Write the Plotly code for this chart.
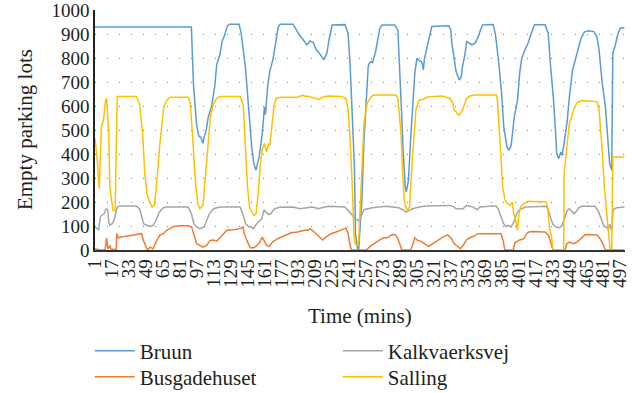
import plotly.graph_objects as go

# ---------------- data ----------------
bruun_t = [1, 92, 94, 97, 99, 101, 103, 104, 106, 108, 111, 114, 116, 119, 121, 123, 126, 128, 137, 139, 143, 146,
           149, 151, 153, 156, 159, 161, 162, 164, 166, 169, 172, 174, 176, 188, 193, 198, 201, 204, 207, 210, 213,
           217, 220, 222, 225, 237, 240, 242, 244, 246, 247, 249, 250, 251, 253, 255, 257, 259, 260, 262, 263, 265,
           266, 268, 270, 272, 284, 287, 288, 290, 292, 294, 295, 297, 299, 301, 303, 305, 306, 309, 310, 311, 312,
           314, 317, 319, 335, 337, 338, 340, 342, 345, 347, 348, 350, 352, 355, 357, 360, 363, 365, 367, 377, 379,
           382, 385, 387, 389, 390, 392, 394, 397, 400, 402, 404, 407, 410, 412, 414, 416, 426, 429, 431, 434, 436,
           437, 439, 441, 442, 444, 447, 449, 452, 456, 458, 460, 463, 467, 472, 475, 477, 480, 483, 485, 487, 489,
           489.5, 490, 492, 495, 497, 501]
bruun_v = [930, 930, 690, 520, 475, 470, 445, 470, 500, 556, 598, 680, 775, 815, 870, 890, 935, 942, 942, 905, 765, 590,
           430, 360, 333, 388, 486, 598, 565, 680, 745, 793, 870, 930, 942, 942, 904, 877, 856, 872, 866, 835, 820,
           793, 821, 877, 938, 940, 904, 765, 556, 347, 68, 5, 2, 68, 207, 458, 625, 765, 779, 786, 780, 807,
           828, 877, 925, 938, 938, 918, 835, 626, 416, 263, 242, 291, 458, 626, 737, 800, 793, 786, 779, 751, 793,
           835, 890, 932, 935, 918, 863, 807, 744, 709, 723, 765, 807, 869, 863, 856, 863, 890, 918, 939, 940, 904,
           793, 653, 514, 444, 430, 416, 437, 556, 626, 737, 800, 835, 863, 890, 918, 939, 939, 904, 779, 626, 486,
           402, 381, 409, 395, 444, 542, 640, 751, 814, 849, 883, 909, 914, 911, 890, 835, 695, 598, 458, 360, 333,
           486, 821, 849, 904, 925, 928]

busg_t = [1, 5.7, 10.5, 12, 13, 15, 16, 20, 21, 21.5, 23, 26, 31, 37, 42, 45, 46.7, 49, 50.5, 53, 56, 57.8, 59.3, 62,
          65.5, 68.7, 72, 75, 81, 89, 92.3, 94, 97, 100, 103, 106.4, 109.7, 112.8, 116, 119, 122.4, 125.5, 131.8,
          138, 140.7, 142, 144.4, 147.6, 151, 154, 156.6, 159, 160.6, 163, 165.5, 168.6, 173.4, 179.7, 186, 192.3,
          198.6, 202.4, 204.3, 208, 213, 216, 219, 224, 228.7, 233.5, 236.7, 238, 240, 241.6, 243, 257, 259.7,
          262, 264.4, 266.6, 269, 271.7, 274, 277, 280.3, 282.5, 285, 286.6, 288.8, 290.7, 299, 300.8, 303,
          305.6, 308.6, 311.8, 316, 319.7, 324.5, 329.4, 334, 337, 340.4, 343.6, 346, 348.6, 351.8, 355, 358,
          362.8, 367.6, 377, 381, 384.4, 386.4, 388, 396, 397.5, 402, 406, 408.4, 410.6, 415, 422, 426, 429.3,
          432, 433.5, 445, 446.5, 449.3, 453, 456.2, 461, 464, 475, 478, 480.6, 483, 501]
busg_v = [5, 0, 0, 51, 5, 19, 5, 0, 0, 68, 51, 54, 58, 61, 68, 68, 40, 19, 0, 12, 5, 26, 40, 61,
          68, 82, 89, 98, 101, 101, 96, 68, 26, 19, 12, 19, 40, 42, 37, 51, 68, 82, 84,
          89, 96, 68, 40, 9, 9, 19, 33, 54, 40, 19, 15, 33, 47, 61, 72, 75,
          82, 82, 89, 75, 54, 42, 54, 68, 75, 82, 89, 92, 68, 26, 0, 0, 12,
          19, 26, 33, 37, 47, 51, 51, 61, 65, 61, 51, 26, 0, 0, 19, 51,
          40, 37, 29, 15, 26, 40, 54, 63, 51, 26, 12, 5, 19, 42, 51, 56,
          68, 68, 70, 68, 68, 40, 0, 0, 30, 42, 47, 68, 75, 77, 77, 75, 61,
          19, 0, 0, 26, 33, 26, 33, 54, 65, 63, 47, 26, 0, 0]

kalk_t = [1, 3, 4.5, 6, 7, 9.6, 11.5, 13, 14, 15, 17, 19, 21, 22, 25, 40, 43, 45, 47, 50, 53, 56, 58.6, 61.7, 65.5,
          69, 89, 92, 94.5, 97, 100, 104, 106.4, 109, 113, 119, 138, 140.6, 143, 146, 148, 150.6, 153, 155, 158.5,
          160.7, 162.6, 165, 167, 170, 174.5, 188, 194.7, 199.5, 206, 209, 212, 215, 221.5, 237, 240.6, 244, 247,
          249.6, 252, 255, 258.4, 263, 275.7, 285, 288, 291.4, 294.6, 297.8, 301, 307, 313.6, 336, 339, 342, 348.6,
          351.8, 358, 361.8, 364.4, 377, 380, 381.6, 384.4, 387, 389, 391.4, 394, 396.4, 398.6, 401, 403.6, 408,
          427, 429.3, 431, 433.4, 436.6, 440, 442, 444.5, 447, 449, 451.5, 453.4, 455.6, 457.8, 460.4, 473, 476,
          479.3, 481.8, 484, 485.6, 487, 488.8, 490.4, 493.5, 501]
kalk_v = [96, 89, 85, 137, 144, 151, 172, 168, 116, 103, 109, 123, 158, 179, 183, 183, 172, 137, 109, 103, 98, 103, 123,
          158, 176, 179, 179, 151, 109, 96, 89, 96, 123, 151, 172, 179, 179, 151, 112, 97, 98, 89, 105, 116, 130,
          168, 158, 148, 151, 170, 178, 179, 172, 176, 179, 176, 172, 176, 182, 179, 162, 144, 130, 123, 137, 168,
          172, 176, 182, 179, 176, 168, 158, 165, 172, 179, 183, 186, 182, 172, 172, 186, 179, 168, 179, 183, 183,
          172, 137, 109, 98, 103, 96, 116, 144, 165, 172, 179, 182, 165, 137, 107, 96, 93, 103, 130, 165, 172,
          158, 151, 162, 176, 182, 182, 165, 123, 98, 96, 84, 107, 82, 168, 176, 179]

sall_t = [1, 3, 5, 6, 7, 9, 10, 11, 12, 14, 15, 17, 18, 20, 21, 22, 25, 40, 43, 46, 48, 50, 52, 55, 57, 59, 62, 64,
          66, 69, 72, 89, 91, 93, 95.5, 98, 100, 103, 105, 107, 110, 113, 116, 119, 138, 141, 143, 145, 147, 149,
          151, 153, 155, 157, 159, 161, 163, 165, 166, 168, 170, 172, 176, 192, 195, 197, 200, 202, 205, 210, 213,
          216, 221, 234, 238, 240, 242, 244, 245.5, 246.6, 249, 250, 251, 253, 255, 257, 258, 260, 262, 264, 285,
          287, 288, 290, 291.5, 293, 295, 296, 298, 299, 301, 303, 304, 306, 307, 311, 314, 320, 329, 336, 339,
          340, 342, 344, 345, 348, 350, 352, 355, 360, 380, 381, 383, 384.5, 386, 388, 389, 391, 393, 395, 396.5,
          399, 400, 401, 403, 405, 408, 410, 427, 428.6, 430, 431, 432, 433.5, 443.6, 444, 447, 449, 453, 456,
          461, 465, 475, 477, 480, 482, 484, 486, 487.5, 489, 490, 501]
sall_v = [465, 380, 256, 416, 514, 542, 600, 626, 632, 486, 263, 179, 165, 165, 350, 640, 640, 640, 612, 486, 319, 235,
          207, 179, 186, 263, 430, 528, 598, 626, 637, 637, 612, 486, 305, 193, 172, 186, 291, 430, 556, 612, 632,
          640, 640, 605, 458, 263, 179, 158, 144, 150, 230, 350, 420, 444, 410, 444, 437, 514, 600, 632, 637, 637,
          640, 645, 640, 642, 637, 632, 628, 637, 642, 640, 632, 584, 458, 263, 68, 26, 19, 40, 151, 347, 528,
          584, 612, 626, 640, 646, 646, 632, 584, 486, 319, 207, 172, 165, 180, 263, 402, 514, 584, 612, 626,
          628, 637, 640, 642, 632, 612, 584, 577, 563, 563, 584, 612, 632, 642, 646, 646, 626, 486, 347, 263,
          214, 200, 193, 186, 200, 151, 109, 82, 140, 180, 190, 200, 203, 200, 179, 96, 80, 60, 0, 0, 319, 458,
          528, 584, 614, 623, 621, 619, 584, 416, 263, 151, 68, 5, 5, 388, 388]

tick_vals = list(range(1, 498, 16))
tick_text = [str(v) for v in tick_vals]
y_ticks = list(range(0, 1001, 100))

# ---------------- figure ----------------
FONT = "'Liberation Serif', 'Times New Roman', 'DejaVu Serif', serif"
TXT = "#231f20"

fig = go.Figure()
fig.add_trace(go.Scatter(x=bruun_t, y=bruun_v, mode="lines", name="Bruun",
                         line=dict(color="#5B9BD5", width=1.5), legend="legend"))
fig.add_trace(go.Scatter(x=busg_t, y=busg_v, mode="lines", name="Busgadehuset",
                         line=dict(color="#ED7D31", width=1.5), legend="legend3"))
fig.add_trace(go.Scatter(x=kalk_t, y=kalk_v, mode="lines", name="Kalkvaerksvej",
                         line=dict(color="#A5A5A5", width=1.5), legend="legend2"))
fig.add_trace(go.Scatter(x=sall_t, y=sall_v, mode="lines", name="Salling",
                         line=dict(color="#FFC000", width=1.5), legend="legend4"))

def leg(x, y):
    return dict(x=x, y=y, xanchor="left", yanchor="top", orientation="v",
                font=dict(family=FONT, size=21, color=TXT), itemwidth=40,
                bgcolor="rgba(0,0,0,0)", tracegroupgap=0)

fig.update_layout(
    width=637, height=393,
    margin=dict(l=95, r=12, t=10, b=143, autoexpand=False),
    paper_bgcolor="white", plot_bgcolor="white",
    font=dict(family=FONT, size=19, color=TXT),
    showlegend=True,
    legend=leg(-0.01, -0.336),
    legend3=leg(-0.01, -0.444),
    legend2=leg(0.458, -0.336),
    legend4=leg(0.458, -0.444),
    annotations=[
        dict(text="Empty parking lots", xref="paper", yref="paper", x=-0.132, y=0.5,
             textangle=-90, showarrow=False, font=dict(family=FONT, size=21, color=TXT),
             xanchor="center", yanchor="middle"),
        dict(text="Time (mins)", xref="paper", yref="paper", x=0.5, y=-0.275,
             showarrow=False, font=dict(family=FONT, size=21, color=TXT),
             xanchor="center", yanchor="middle"),
    ],
)

fig.update_xaxes(range=[1, 501.5], tickmode="array", tickvals=tick_vals, ticktext=tick_text,
                 tickangle=-90, showgrid=False, zeroline=False, showline=True,
                 linecolor="#333333", linewidth=1.5, ticks="", ticklen=0,
                 ticklabeloverflow="allow",
                 tickfont=dict(family=FONT, size=19, color=TXT))
fig.update_yaxes(range=[0, 1001], tickmode="array", tickvals=y_ticks,
                 showgrid=True, gridcolor="#7f7f7f", gridwidth=1, griddash="1px,11px",
                 zeroline=False, showline=True, linecolor="#222222", linewidth=1.5, ticks="",
                 ticklabeloverflow="allow",
                 tickfont=dict(family=FONT, size=19, color=TXT))

fig.write_html("out.html", config={"displayModeBar": False},
               post_script="document.body.style.margin='0';document.body.style.padding='0';")
